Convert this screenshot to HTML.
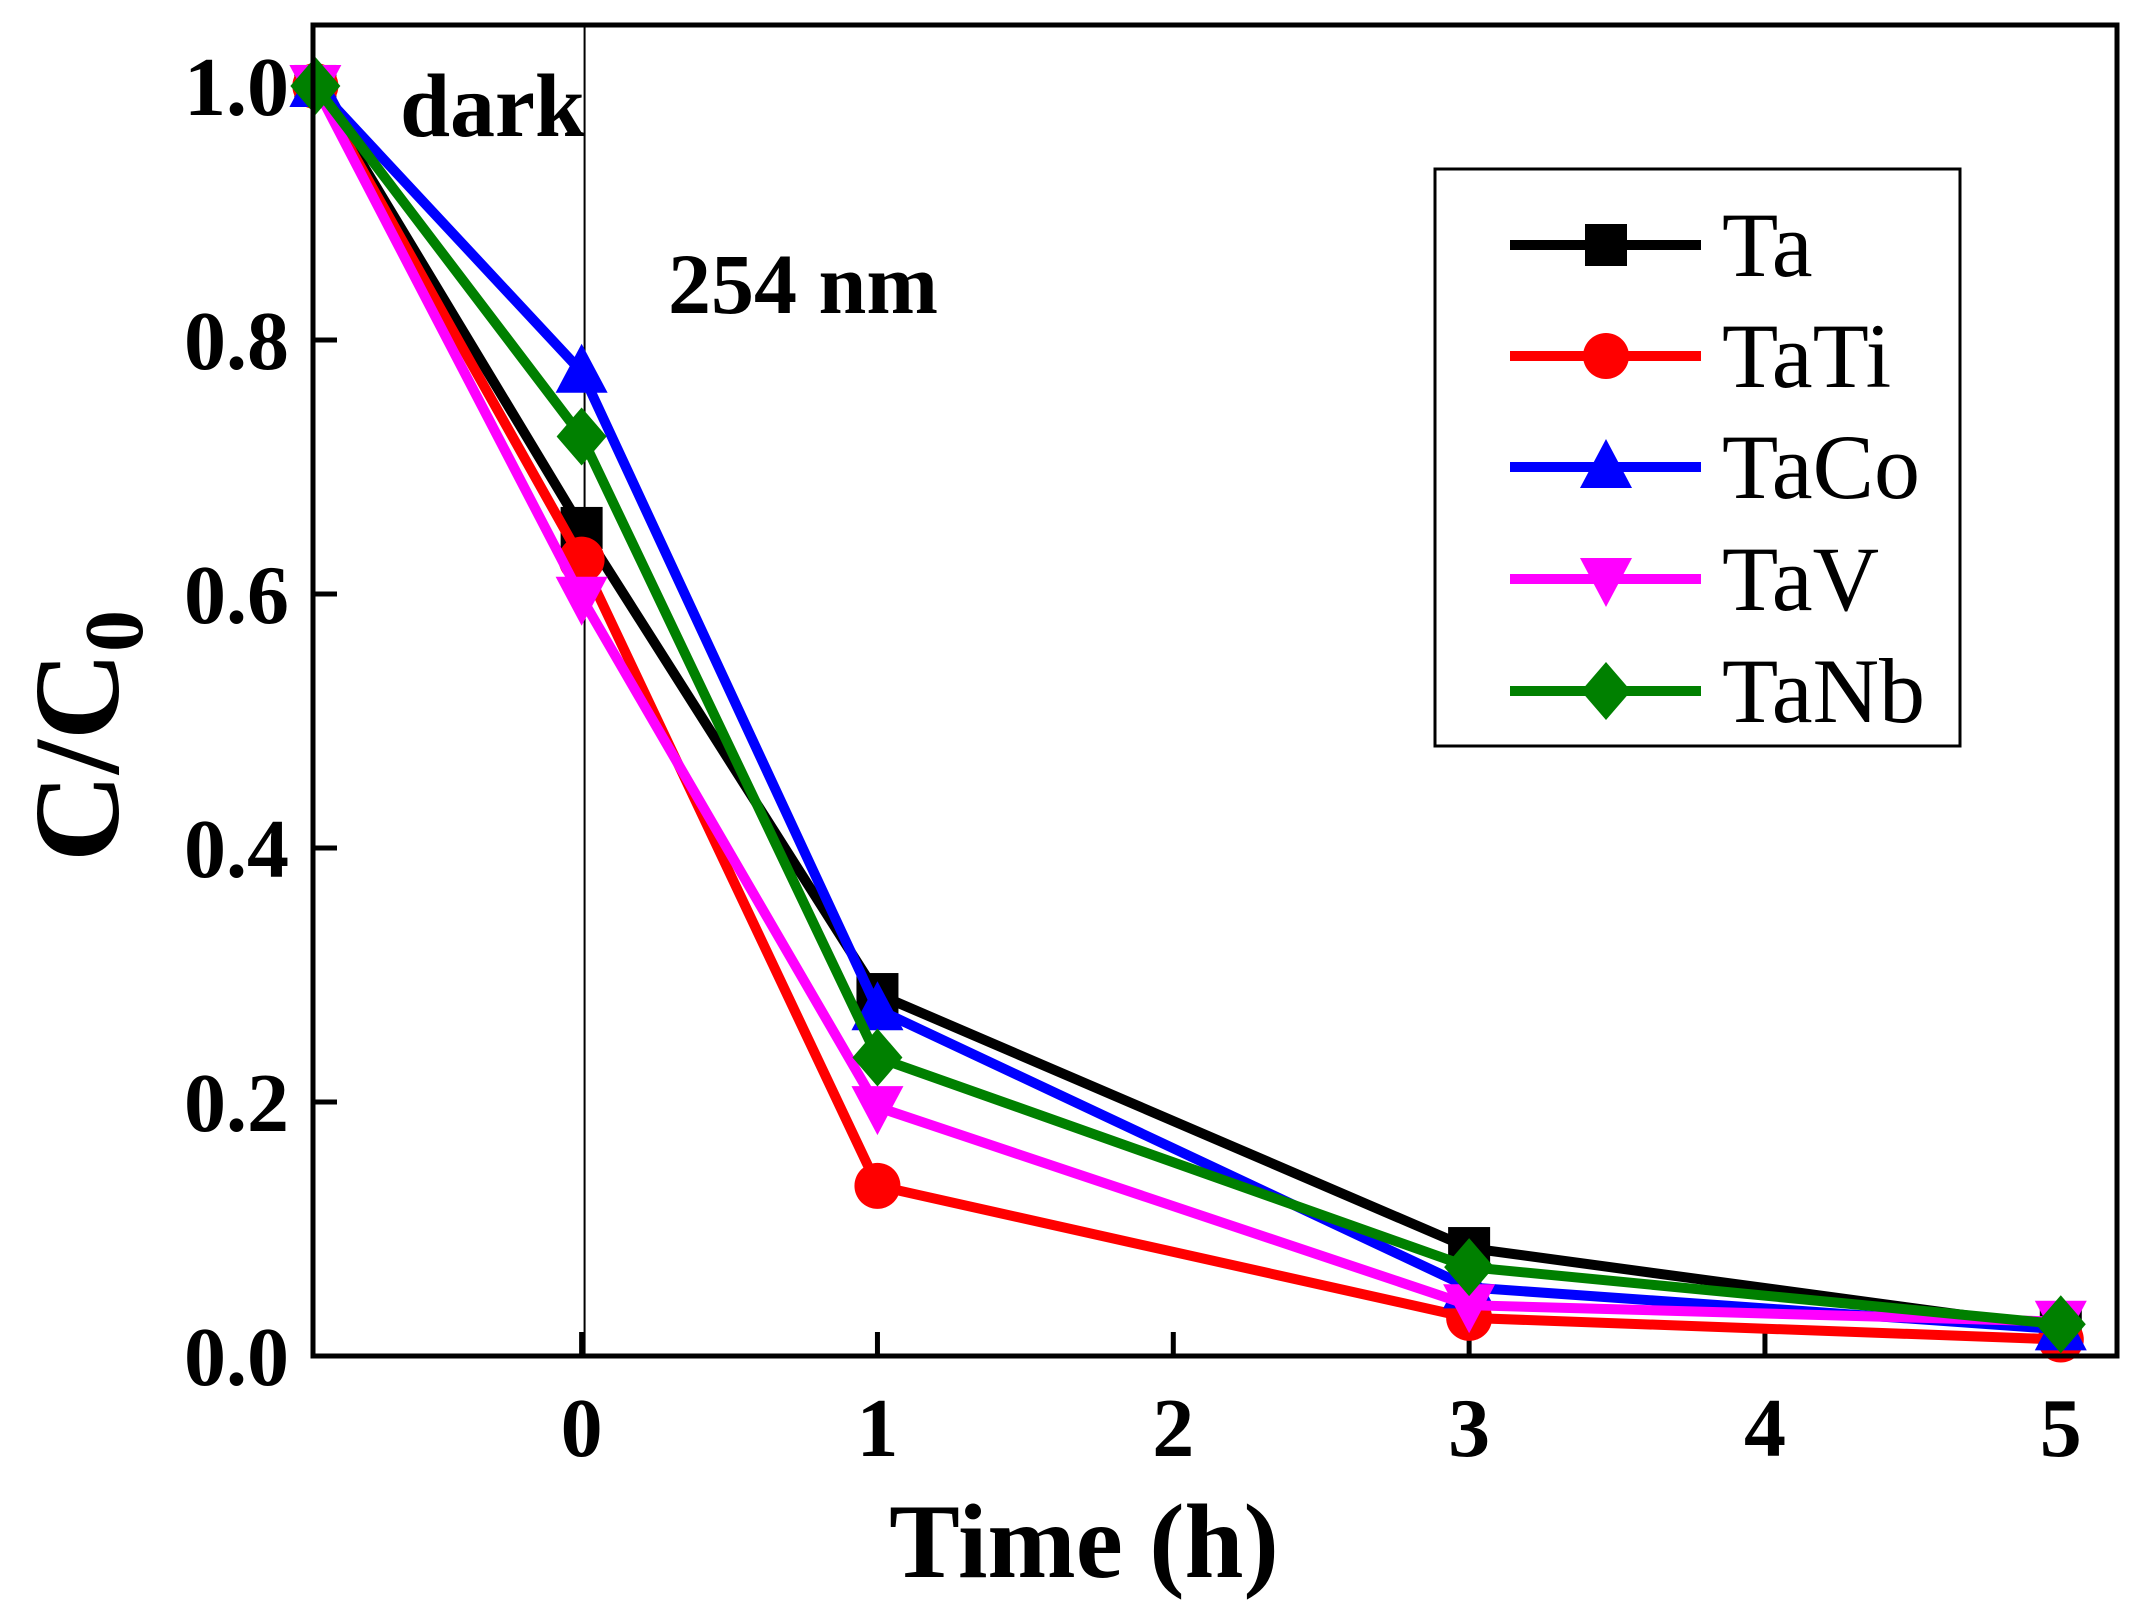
<!DOCTYPE html>
<html><head><meta charset="utf-8"><style>
html,body{margin:0;padding:0;background:#fff;}
svg{display:block;font-family:"Liberation Serif",serif;}
</style></head><body>
<svg id="chart" width="2137" height="1623" viewBox="0 0 2137 1623">
<g id="plot"></g>
</svg>
<script>
const xCats = [-0.9, 0, 1, 3, 5];
const xTicks = [0, 1, 2, 3, 4, 5];
const yTicks = [0.0, 0.2, 0.4, 0.6, 0.8, 1.0];
const seriesNames = ["Ta", "TaTi", "TaCo", "TaV", "TaNb"];
const taVals = [1.0, 0.652, 0.285, 0.085, 0.022];
const tatiVals = [1.0, 0.627, 0.134, 0.030, 0.013];
const tacoVals = [1.0, 0.775, 0.273, 0.054, 0.021];
const tavVals = [1.0, 0.597, 0.196, 0.040, 0.027];
const tanbVals = [1.0, 0.724, 0.235, 0.070, 0.025];

const NS = "http://www.w3.org/2000/svg";
const L = 313, R = 2117, T = 25, B = 1356;
const XMIN = -0.908, XMAX = 5.19, YMIN = 0, YMAX = 1.048;
const xs = v => L + (v - XMIN) / (XMAX - XMIN) * (R - L);
const ys = v => B - (v - YMIN) / (YMAX - YMIN) * (B - T);
const g = document.getElementById('plot');
function mk(tag, attrs, parent) {
  const e = document.createElementNS(NS, tag);
  for (const k in attrs) e.setAttribute(k, attrs[k]);
  (parent || g).appendChild(e);
  return e;
}
let dv = mk('line', {x1: xs(0.01), x2: xs(0.01), y1: T, y2: B, stroke: '#000', 'stroke-width': 2});



xTicks.forEach(t => {
  const l = mk('line', {x1: xs(t), x2: xs(t), y1: B, y2: B - 24, stroke: '#000', 'stroke-width': 5});
  
  
  const tx = mk('text', {x: xs(t), y: B + 100, 'text-anchor': 'middle', 'font-size': 84, 'font-weight': 'bold'});
  tx.textContent = String(t);
  
  
});
yTicks.forEach(t => {
  const l = mk('line', {x1: L, x2: L + 24, y1: ys(t), y2: ys(t), stroke: '#000', 'stroke-width': 5});
  
  
  const tx = mk('text', {x: L - 24, y: ys(t) + 29, 'text-anchor': 'end', 'font-size': 84, 'font-weight': 'bold'});
  tx.textContent = t.toFixed(1);
  
  
});

const colors = ['#000000', '#ff0000', '#0000ff', '#ff00ff', '#008000'];
const allVals = [taVals, tatiVals, tacoVals, tavVals, tanbVals];
const shapes = ['square', 'circle', 'tri-up', 'tri-down', 'diamond'];
function marker(shape, x, y, c, parent) {
  const s = 21;
  let e;
  if (shape === 'square') e = mk('rect', {x: x - s, y: y - s, width: 2 * s, height: 2 * s, fill: c}, parent);
  else if (shape === 'circle') e = mk('circle', {cx: x, cy: y, r: s + 2, fill: c}, parent);
  else if (shape === 'tri-up') e = mk('polygon', {points: `${x},${y - s - 7} ${x - s - 5},${y + s} ${x + s + 5},${y + s}`, fill: c}, parent);
  else if (shape === 'tri-down') e = mk('polygon', {points: `${x},${y + s + 7} ${x - s - 5},${y - s} ${x + s + 5},${y - s}`, fill: c}, parent);
  else e = mk('polygon', {points: `${x},${y - s - 8} ${x + s + 4},${y} ${x},${y + s + 8} ${x - s - 4},${y}`, fill: c}, parent);
  return e;
}
allVals.forEach((vals, i) => {
  const sg = mk('g', {});
  
  
  const pts = vals.map((v, j) => xs(xCats[j]) + ',' + ys(v)).join(' ');
  const pl = mk('polyline', {points: pts, fill: 'none', stroke: colors[i], 'stroke-width': 10, 'stroke-linejoin': 'miter'}, sg);
  
  
  vals.forEach((v, j) => {
    const m = marker(shapes[i], xs(xCats[j]), ys(v), colors[i], sg);
    
    
  });
});

const fr = mk('rect', {x: L, y: T, width: R - L, height: B - T, fill: 'none', stroke: '#000', 'stroke-width': 5});



const dk = mk('text', {x: 400, y: 136, 'font-size': 90, 'font-weight': 'bold'});
dk.textContent = 'dark';


const nm = mk('text', {x: 668, y: 313, 'font-size': 86, 'font-weight': 'bold'});
nm.textContent = '254 nm';



const xt = mk('text', {x: 1084, y: 1577, 'text-anchor': 'middle', 'font-size': 106, 'font-weight': 'bold'});
xt.textContent = 'Time (h)';


const yt = mk('text', {x: 0, y: 0, 'text-anchor': 'middle', 'font-size': 122, 'font-weight': 'bold', transform: 'translate(118,736) rotate(-90)'});
yt.innerHTML = 'C/C<tspan font-size="84" dy="24">0</tspan>';



const lg = mk('g', {});


mk('rect', {x: 1435, y: 169, width: 525, height: 577, fill: '#fff', stroke: '#000', 'stroke-width': 3}, lg);
const ly = [245, 356, 467, 579, 691];
seriesNames.forEach((n, i) => {
  const eg = mk('g', {}, lg);
  
  
  mk('line', {x1: 1510, x2: 1701, y1: ly[i], y2: ly[i], stroke: colors[i], 'stroke-width': 10}, eg);
  marker(shapes[i], 1606, ly[i], colors[i], eg);
  const t = mk('text', {x: 1722, y: ly[i] + 31, 'font-size': 92}, eg);
  t.textContent = n;
});
</script>
</body></html>
